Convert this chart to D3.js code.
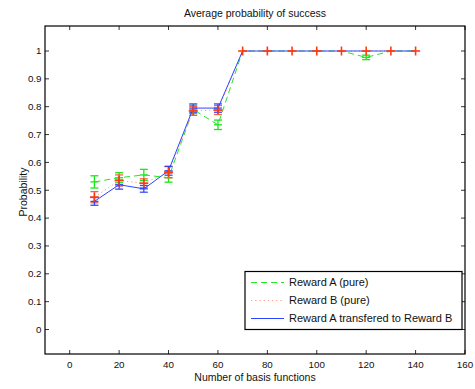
<!DOCTYPE html>
<html>
<head>
<meta charset="utf-8">
<script src="https://cdn.jsdelivr.net/npm/d3@7"></script>
<style>
  html, body { margin: 0; padding: 0; background: #fff; }
  svg { display: block; font-family: "Liberation Sans", Arial, Helvetica, sans-serif; }
</style>
</head>
<body>
<svg id="chart" width="475" height="389"></svg>
<script>
// Number of basis functions on the x axis
const basis = [10, 20, 30, 40, 50, 60, 70, 80, 90, 100, 110, 120, 130, 140];

// Mean success probability and its error for each learner
const rewardA     = [0.53, 0.545, 0.555, 0.545, 0.79, 0.735, 1, 1, 1, 1, 1, 0.977, 1, 1];
const rewardAErr  = [0.022, 0.018, 0.02, 0.016, 0.015, 0.017, 0, 0, 0, 0, 0, 0.008, 0, 0];
const rewardB     = [0.475, 0.535, 0.525, 0.565, 0.785, 0.788, 1, 1, 1, 1, 1, 1, 1, 1];
const rewardBErr  = [0.02, 0.02, 0.016, 0.02, 0.016, 0.016, 0, 0, 0, 0, 0, 0, 0, 0];
const transfer    = [0.46, 0.52, 0.505, 0.57, 0.795, 0.795, 1, 1, 1, 1, 1, 1, 1, 1];
const transferErr = [0.014, 0.016, 0.012, 0.016, 0.015, 0.015, 0, 0, 0, 0, 0, 0, 0, 0];

const xTicks = [0, 20, 40, 60, 80, 100, 120, 140, 160];
const yTicks = [0, 0.1, 0.2, 0.3, 0.4, 0.5, 0.6, 0.7, 0.8, 0.9, 1];

const seriesNames = ["Reward A (pure)", "Reward B (pure)", "Reward A transfered to Reward B"];

const svg = d3.select("#chart");

const box = { left: 45, right: 465, top: 26, bottom: 354 };
const x = d3.scaleLinear().domain([-10, 160]).range([box.left, box.right]);
const y = d3.scaleLinear().domain([0, 1]).range([329.5, 51]);

const series = [
  { name: seriesNames[0], vals: rewardA, err: rewardAErr, color: "#00e600", lineColor: "#22e622", dash: "6,4" },
  { name: seriesNames[1], vals: rewardB, err: rewardBErr, color: "#ff4d33", lineColor: "#ff9a85", dash: "1.2,3" },
  { name: seriesNames[2], vals: transfer, err: transferErr, color: "#1f3cff", lineColor: "#2b45ff", dash: null }
];

const plot = svg.append("g");

// Error bars first, then the lines
series.forEach(s => {
  const g = plot.append("g").attr("stroke", s.color).attr("stroke-width", 1.3).attr("opacity", 0.9);
  basis.forEach((b, i) => {
    const e = s.err[i];
    if (e <= 0) return;
    const cx = x(b), y0 = y(s.vals[i] - e), y1 = y(s.vals[i] + e);
    g.append("line").attr("x1", cx).attr("x2", cx).attr("y1", y0).attr("y2", y1);
    g.append("line").attr("x1", cx - 4).attr("x2", cx + 4).attr("y1", y0).attr("y2", y0);
    g.append("line").attr("x1", cx - 4).attr("x2", cx + 4).attr("y1", y1).attr("y2", y1);
    g.append("line").attr("x1", cx - 4).attr("x2", cx + 4).attr("y1", y(s.vals[i])).attr("y2", y(s.vals[i]));
  });
});

const line = d3.line().x((d, i) => x(basis[i])).y(d => y(d));
series.forEach(s => {
  plot.append("path")
    .datum(s.vals)
    .attr("fill", "none")
    .attr("stroke", s.lineColor)
    .attr("stroke-width", 1)
    .attr("stroke-dasharray", s.dash)
    .attr("d", line);
});

// Plus markers on the Reward B series
const plus = plot.append("g").attr("stroke", "#ff3a10").attr("stroke-width", 1.6);
basis.forEach((b, i) => {
  const cx = x(b), cy = y(rewardB[i]);
  plus.append("line").attr("x1", cx - 4.5).attr("x2", cx + 4.5).attr("y1", cy).attr("y2", cy);
  plus.append("line").attr("x1", cx).attr("x2", cx).attr("y1", cy - 4.5).attr("y2", cy + 4.5);
});

// Axes box with inward ticks on all four sides
const frame = svg.append("g").attr("stroke", "#000").attr("fill", "none");
frame.append("rect")
  .attr("x", box.left).attr("y", box.top)
  .attr("width", box.right - box.left).attr("height", box.bottom - box.top)
  .attr("stroke-width", 1.2);

const tickLen = 4;
xTicks.forEach(t => {
  frame.append("line").attr("x1", x(t)).attr("x2", x(t)).attr("y1", box.bottom).attr("y2", box.bottom - tickLen).attr("stroke-width", 0.8);
  frame.append("line").attr("x1", x(t)).attr("x2", x(t)).attr("y1", box.top).attr("y2", box.top + tickLen).attr("stroke-width", 0.8);
});
yTicks.forEach(t => {
  frame.append("line").attr("x1", box.left).attr("x2", box.left + tickLen).attr("y1", y(t)).attr("y2", y(t)).attr("stroke-width", 0.8);
  frame.append("line").attr("x1", box.right).attr("x2", box.right - tickLen).attr("y1", y(t)).attr("y2", y(t)).attr("stroke-width", 0.8);
});

const labels = svg.append("g").attr("fill", "#111").attr("font-size", 9.8);
xTicks.forEach(t => {
  labels.append("text").attr("x", x(t)).attr("y", 367.5).attr("text-anchor", "middle").text(t);
});
yTicks.forEach(t => {
  labels.append("text").attr("x", 41.5).attr("y", y(t) + 3.3).attr("text-anchor", "end").text(t);
});

svg.append("text")
  .attr("x", 255).attr("y", 16.5).attr("text-anchor", "middle")
  .attr("font-size", 10.5).attr("fill", "#111")
  .text("Average probability of success");

svg.append("text")
  .attr("x", 255).attr("y", 381).attr("text-anchor", "middle")
  .attr("font-size", 10.5).attr("fill", "#111")
  .text("Number of basis functions");

svg.append("text")
  .attr("transform", "translate(26.5,192) rotate(-90)")
  .attr("text-anchor", "middle")
  .attr("font-size", 10.5).attr("fill", "#111")
  .text("Probability");

// Legend
const legend = svg.append("g");
legend.append("rect")
  .attr("x", 245).attr("y", 271.5).attr("width", 217).attr("height", 58)
  .attr("fill", "#fff").attr("stroke", "#000").attr("stroke-width", 1.2);
series.forEach((s, i) => {
  const ly = 282.5 + i * 18;
  legend.append("line")
    .attr("x1", 251).attr("x2", 284).attr("y1", ly).attr("y2", ly)
    .attr("stroke", s.lineColor).attr("stroke-width", 1)
    .attr("stroke-dasharray", s.dash);
  legend.append("text")
    .attr("x", 289).attr("y", ly + 3.8)
    .attr("font-size", 11).attr("fill", "#111")
    .text(s.name);
});
</script>
</body>
</html>
